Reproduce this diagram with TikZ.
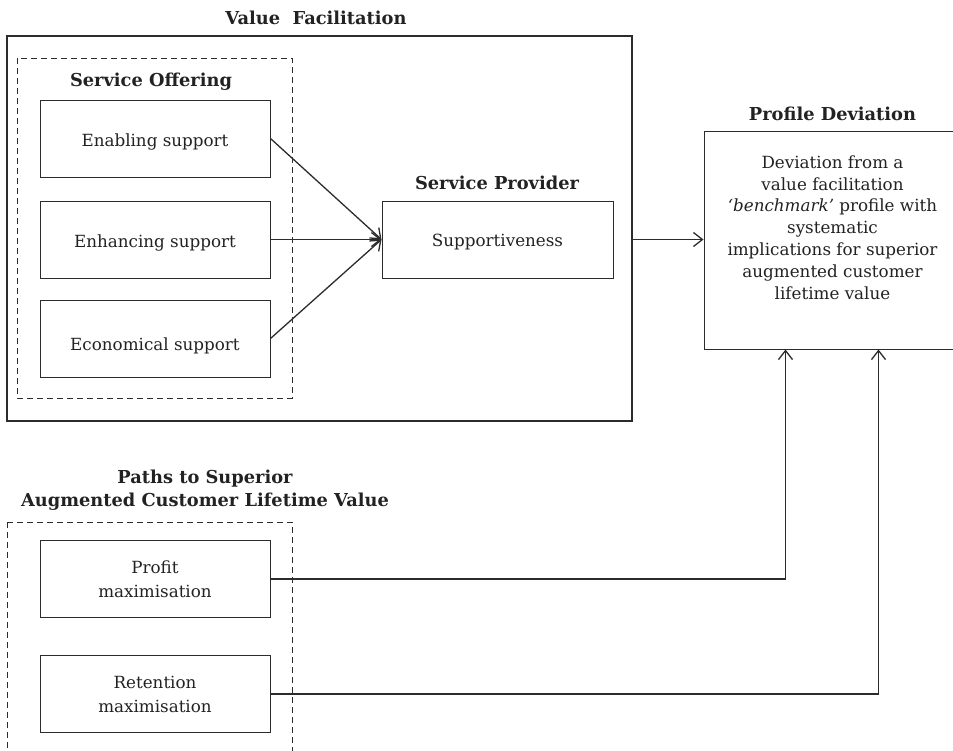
\documentclass[tikz,border=0pt]{standalone}
\usepackage{fontspec}
\setmainfont{DejaVu Serif}
\usetikzlibrary{arrows.meta}
\definecolor{ink}{HTML}{222222}
\definecolor{rule}{HTML}{2c2c2c}
% lower a single line of text inside its box by half of #1
\newcommand\dropby[2]{\raisebox{0pt}[\dimexpr\height+#1\relax]{#2}}
\begin{document}
\begin{tikzpicture}[x=1pt,y=-1pt,
  box/.style={draw=rule, line width=1pt, minimum width=230pt, minimum height=77pt,
    inner sep=0pt, align=center, text=ink, font=\fontsize{16.75}{24}\selectfont},
  heading/.style={inner sep=0pt, align=center, text=ink, font=\bfseries\fontsize{17.8}{23}\selectfont},
  frame/.style={draw=rule, line width=1.4pt, inner sep=0pt},
  dashframe/.style={draw=rule, line width=1pt, dash pattern=on 6pt off 4pt},
  link/.style={draw=rule, line width=1.3pt, -{Straight Barb[length=9pt,width=14pt,line width=1.3pt]}}
]
\useasboundingbox (0,0) rectangle (953,750);
\clip (0,0) rectangle (953,750);

% Value facilitation group
\node[heading] (vftitle) at (316,18) {Value\ \ Facilitation};
\node[frame, minimum width=625pt, minimum height=385pt] (vf) at (319.5,228.5) {};
\draw[dashframe] (17,58) rectangle (292,398);
\node[heading] (sotitle) at (151,82) {Service Offering};

\node[box] (enable) at (155,138.5) {\dropby{6pt}{Enabling support}};
\node[box] (enhance) at (155,239.5) {\dropby{6pt}{Enhancing support}};
\node[box] (econ) at (155,338.5) {\dropby{15pt}{Economical support}};

\node[heading] (sptitle) at (497,183) {Service Provider};
\node[box, minimum width=231pt] (sup) at (497.5,239.5) {\dropby{6pt}{Supportiveness}};

\draw[link] (enable.east) -- (sup.west);
\draw[link] (enhance.east) -- (sup.west);
\draw[link] (econ.east) -- (sup.west);

% Profile deviation
\node[heading] (pdtitle) at (832.5,114) {Profile Deviation};
\node[frame, line width=1pt, minimum width=257pt, minimum height=218pt] (prof) at (832.5,240) {};
\node[inner sep=0pt, align=center, text=ink, font=\fontsize{16.75}{21.8}\selectfont] (proftext) at (832.5,227.5)
  {Deviation from a\\value facilitation\\\textit{‘benchmark’} profile with\\systematic\\implications for superior\\augmented customer\\lifetime value};

\draw[link] (vf.east |- sup.east) -- (prof.west |- sup.east);

% Paths group
\node[heading] (pathtitle) at (205,490) {Paths to Superior\\Augmented Customer Lifetime Value};
\draw[dashframe] (7,522) rectangle (292,770);
\node[box] (profit) at (155,579) {Profit\\maximisation};
\node[box] (retain) at (155,694) {Retention\\maximisation};

\draw[link] (profit.east) -| ([xshift=82pt]prof.south west);
\draw[link] (retain.east) -| ([xshift=175pt]prof.south west);
\end{tikzpicture}
\end{document}
